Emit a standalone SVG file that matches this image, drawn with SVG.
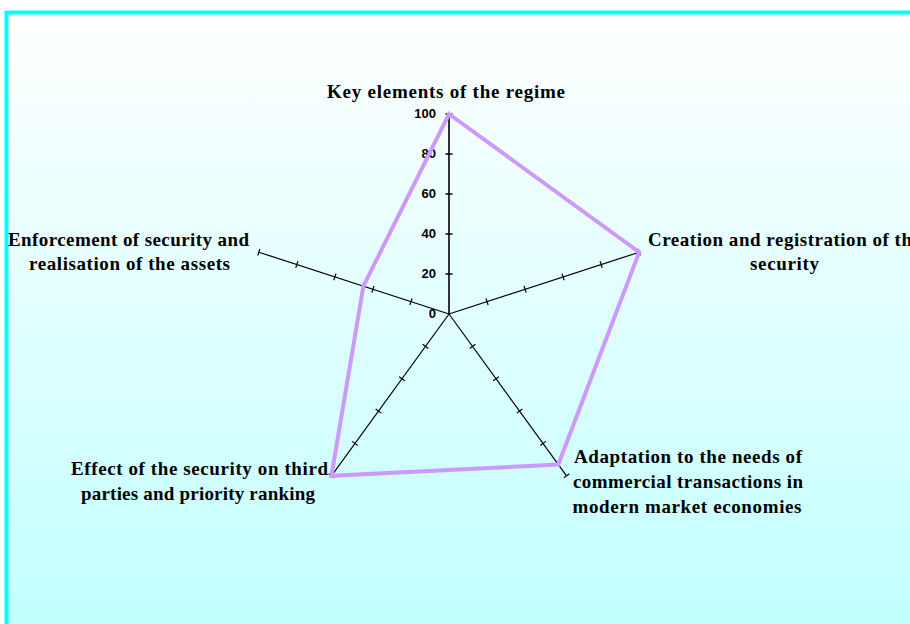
<svg xmlns="http://www.w3.org/2000/svg" xmlns:xlink="http://www.w3.org/1999/xlink" width="910" height="624" viewBox="0 0 910 624">
<style>
.lbl{font-family:"Liberation Serif","Times New Roman",serif;font-weight:bold;font-size:19px;fill:#000;text-anchor:middle}
.val{font-family:"Liberation Sans",Arial,sans-serif;font-weight:bold;font-size:13px;fill:#000;text-anchor:end}
.ax{stroke:#000;stroke-width:1.2;fill:none}
.data{stroke:#cc99ff;stroke-width:4;fill:none;stroke-linejoin:miter}
</style>
<defs>
<linearGradient id="bg" gradientUnits="userSpaceOnUse" x1="0" y1="12" x2="0" y2="624">
<stop offset="0" stop-color="#ffffff"/>
<stop offset="1" stop-color="#c2ffff"/>
</linearGradient>
<g id="axis">
<line x1="449" y1="314" x2="449" y2="114"/>
<path d="M445.5 274H452.5M445.5 234H452.5M445.5 194H452.5M445.5 154H452.5M445.5 114H452.5"/>
</g>
</defs>
<rect x="0" y="0" width="910" height="624" fill="#ffffff"/>
<rect id="frame" x="6.5" y="12.5" width="1000" height="1000" fill="url(#bg)" stroke="#00ffff" stroke-width="4"/>
<g id="connectors" class="ax">
<use xlink:href="#axis" style="stroke-width:1.6"/>
<use xlink:href="#axis" transform="rotate(72 449 314)"/>
<use xlink:href="#axis" transform="rotate(144 449 314)"/>
<use xlink:href="#axis" transform="rotate(216 449 314)"/>
<use xlink:href="#axis" transform="rotate(288 449 314)"/>
</g>
<g id="scale">
<text class="val" x="436" y="118">100</text>
<text class="val" x="436" y="158">80</text>
<text class="val" x="436" y="198">60</text>
<text class="val" x="436" y="238">40</text>
<text class="val" x="436" y="278">20</text>
<text class="val" x="436" y="318">0</text>
</g>
<g id="series">
<polygon class="data" points="449,114 639.2,252.2 558.3,464.5 331.4,475.8 363.4,286.2"/>
</g>
<g id="node-key">
<text class="lbl" x="446" y="98" textLength="238" lengthAdjust="spacing">Key elements of the regime</text>
</g>
<g id="node-creation">
<text class="lbl" x="784.5" y="246" textLength="273" lengthAdjust="spacing">Creation and registration of the</text>
<text class="lbl" x="784.5" y="270" textLength="69" lengthAdjust="spacing">security</text>
</g>
<g id="node-adaptation">
<text class="lbl" x="688" y="463" textLength="228" lengthAdjust="spacing">Adaptation to the needs of</text>
<text class="lbl" x="688" y="488" textLength="230" lengthAdjust="spacing">commercial transactions in</text>
<text class="lbl" x="687" y="513" textLength="229" lengthAdjust="spacing">modern market economies</text>
</g>
<g id="node-effect">
<text class="lbl" x="199.5" y="475" textLength="257" lengthAdjust="spacing">Effect of the security on  third</text>
<text class="lbl" x="198" y="500" textLength="234" lengthAdjust="spacing">parties and priority ranking</text>
</g>
<g id="node-enforcement">
<text class="lbl" x="128.5" y="246" textLength="241" lengthAdjust="spacing">Enforcement of security and</text>
<text class="lbl" x="129.5" y="270" textLength="201" lengthAdjust="spacing">realisation of the assets</text>
</g>
</svg>
